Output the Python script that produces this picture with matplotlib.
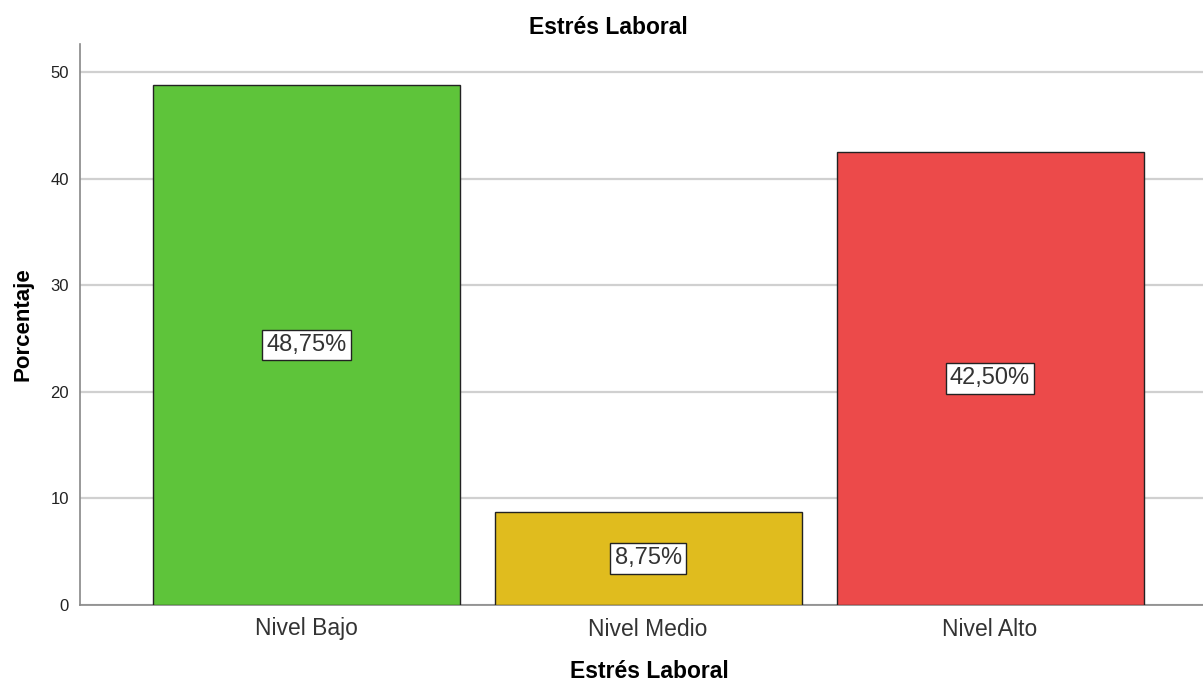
import matplotlib
matplotlib.use("Agg")
import matplotlib.pyplot as plt

categories = ["Nivel Bajo", "Nivel Medio", "Nivel Alto"]
values = [48.75, 8.75, 42.50]
labels = ["48,75%", "8,75%", "42,50%"]
colors = ["#5EC43A", "#E0BC1E", "#EC4A4A"]

plt.rcParams['font.family'] = ['Liberation Sans', 'DejaVu Sans']

fig = plt.figure(figsize=(12.03, 6.84), dpi=100)
ax = fig.add_axes([80/1203, 1-605/684, 1-80/1203, (605-44)/684])

x = list(range(len(categories)))
ax.bar(x, values, width=0.898, color=colors, edgecolor="#222222", linewidth=1.0, zorder=3)
for xi, v, lab in zip(x, values, labels):
    ax.text(xi, v/2, lab, ha="center", va="center", fontsize=17, color="#333333", zorder=4,
            bbox=dict(boxstyle="square,pad=0.18", facecolor="white", edgecolor="#222222", linewidth=1.0))

ax.set_xlim(-0.662, 2.623)
ax.set_ylim(0, 52.63)
ax.set_yticks([0, 10, 20, 30, 40, 50])
ax.set_xticks(x)
ax.set_xticklabels(categories, fontsize=16.5, color="#333333")
ax.tick_params(axis="y", length=0, labelsize=12, pad=8, labelcolor="#222222")
ax.tick_params(axis="x", length=0, pad=9)
ax.yaxis.grid(True, color="#d0d0d0", linewidth=1.6, zorder=0)
ax.set_axisbelow(True)
for s in ["top", "right"]:
    ax.spines[s].set_visible(False)
for s in ["left", "bottom"]:
    ax.spines[s].set_color("#888888")
    ax.spines[s].set_linewidth(1.2)

ax.set_ylabel("Porcentaje", fontsize=16, fontweight="bold", labelpad=12)
ax.set_xlabel("Estrés Laboral", fontsize=16.5, fontweight="bold")
ax.xaxis.set_label_coords((649-80)/(1203-80), -(672-605)/(605-44), transform=ax.transAxes)
ax.xaxis.label.set_va("center")
fig.text(608/1203, 1-27/684, "Estrés Laboral", ha="center", va="center", fontsize=16.5, fontweight="bold")

fig.savefig("out.png", dpi=100)
